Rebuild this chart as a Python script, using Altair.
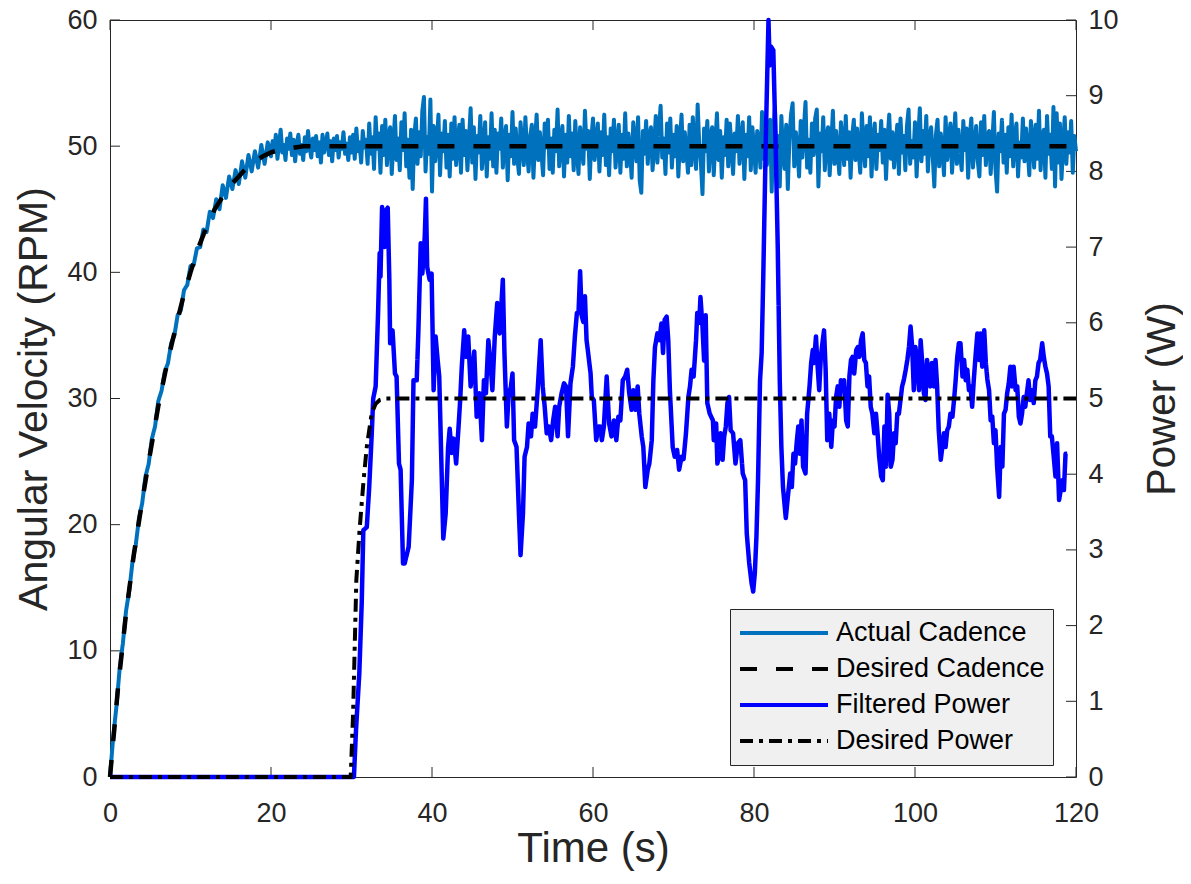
import altair as alt
import pandas as pd

FONT = "Liberation Sans"
TXT = "#262626"
W, H = 966, 757

SERIES = ["Actual Cadence", "Desired Cadence", "Filtered Power", "Desired Power"]
X_TICKS = [0, 20, 40, 60, 80, 100, 120]
CAD_TICKS = [0, 10, 20, 30, 40, 50, 60]
POW_TICKS = [0, 1, 2, 3, 4, 5, 6, 7, 8, 9, 10]

# Desired cadence (RPM)
des_cad_t = [0, 1, 2, 3, 4, 5, 6, 7, 8, 9, 10, 11, 12, 13, 14, 15, 16, 17, 18, 19,
             20, 21, 22, 23, 24, 120]
des_cad_v = [0.0, 7.1, 13.0, 17.8, 21.9, 25.7, 29.4, 32.5, 35.2, 37.8, 40.0, 42.0,
             43.6, 45.0, 46.0, 46.9, 47.6, 48.3, 48.8, 49.2, 49.5, 49.7, 49.8, 49.9,
             50.0, 50.0]

# Actual cadence (RPM): every 0.4 s during the ramp (0-19.6 s)
act_cad_ramp = [
    0.0, 3.2, 5.6, 8.6, 10.6, 13.2, 14.8, 17.1, 18.4, 20.5,
    21.7, 23.8, 24.8, 26.8, 27.8, 29.8, 30.6, 32.1, 32.8, 34.4,
    35.0, 36.6, 37.0, 38.6, 39.0, 40.5, 40.6, 41.9, 42.0, 43.4,
    43.2, 44.8, 44.3, 45.8, 45.0, 46.9, 45.9, 47.6, 46.6, 48.1,
    47.0, 48.8, 47.5, 49.3, 48.0, 49.6, 48.3, 50.1, 48.6, 50.3,
]
# Actual cadence (RPM): every 0.2 s from 20 s to 120 s
act_cad_steady = [
    49.2, 50.4, 49.6, 50.9, 49.0, 50.2, 51.3, 49.5, 50.1, 48.9,
    50.6, 49.8, 51.0, 49.3, 50.5, 48.8, 50.2, 50.9, 49.4, 50.1,
    48.9, 50.7, 49.6, 51.2, 49.9, 49.1, 50.6, 49.7, 50.8, 49.2,
    50.3, 48.7, 50.9, 49.5, 50.1, 51.0, 49.3, 50.4, 48.8, 50.6,
    49.7, 50.8, 49.1, 50.3, 49.8, 51.1, 49.4, 50.2, 48.9, 50.7,
    49.5, 50.9, 49.0, 51.4, 49.6, 50.3, 48.7, 51.2, 49.9, 50.5,
    48.6, 51.8, 49.4, 50.7, 48.2, 52.3, 49.8, 51.0, 47.9, 51.6,
    49.3, 52.1, 48.5, 50.8, 51.5, 47.8, 50.2, 52.4, 48.9, 50.6,
    48.1, 51.9, 49.7, 52.6, 48.4, 50.5, 47.5, 51.3, 46.6, 50.8,
    52.2, 48.6, 51.1, 49.2, 52.8, 53.9, 48.0, 50.7, 49.4, 53.7,
    46.4, 51.6, 48.8, 50.3, 52.5, 47.7, 51.0, 49.6, 52.0, 48.3,
    50.9, 47.6, 51.8, 49.0, 52.3, 48.5, 50.4, 51.7, 47.9, 52.1,
    49.3, 51.2, 48.1, 50.6, 53.0, 48.7, 51.5, 47.4, 50.8, 49.5,
    52.4, 48.2, 50.1, 51.9, 47.6, 50.7, 49.0, 52.6, 48.4, 51.3,
    47.9, 51.0, 49.8, 52.2, 48.3, 50.5, 51.6, 47.3, 50.9, 49.2,
    52.7, 48.6, 51.4, 49.1, 47.8, 51.9, 50.2, 48.5, 52.3, 49.7,
    48.0, 50.8, 51.7, 47.5, 50.4, 52.5, 48.9, 51.1, 49.4, 47.7,
    51.8, 49.9, 52.1, 48.2, 50.6, 47.9, 51.3, 49.6, 52.9, 48.4,
    50.3, 51.6, 47.6, 50.9, 48.7, 52.4, 49.2, 51.0, 48.1, 52.0,
    49.5, 47.8, 51.5, 50.1, 48.6, 52.8, 49.8, 51.2, 47.4, 50.6,
    52.2, 48.9, 50.4, 51.8, 48.0, 51.1, 49.3, 52.5, 48.5, 50.7,
    47.7, 51.4, 49.6, 52.1, 48.3, 50.2, 51.7, 47.9, 50.9, 49.0,
    52.6, 48.4, 51.0, 49.7, 47.5, 51.9, 50.3, 48.8, 52.3, 47.3,
    46.3, 51.2, 49.4, 52.0, 48.6, 50.8, 51.5, 48.1, 50.0, 52.4,
    48.7, 51.3, 53.2, 49.1, 50.6, 47.8, 51.8, 49.5, 52.2, 48.3,
    50.9, 49.2, 51.6, 47.6, 50.4, 52.5, 48.8, 51.1, 49.7, 47.9,
    51.7, 48.5, 52.3, 49.9, 48.2, 53.3, 50.1, 48.7, 46.2, 51.4,
    49.6, 52.0, 48.0, 50.8, 51.5, 47.7, 50.3, 52.6, 48.9, 51.2,
    47.5, 50.7, 49.3, 52.1, 48.4, 51.8, 50.0, 47.8, 51.0, 49.6,
    52.4, 48.6, 50.5, 51.9, 47.4, 50.9, 49.2, 52.3, 48.1, 51.5,
    49.8, 47.9, 51.2, 50.4, 48.3, 52.7, 49.0, 51.6, 48.5, 50.2,
    52.1, 46.4, 51.3, 53.1, 48.0, 50.8, 46.8, 52.4, 49.5, 48.2,
    51.7, 46.6, 50.6, 52.5, 53.4, 48.4, 51.1, 49.7, 47.6, 52.0,
    49.1, 51.4, 53.5, 48.3, 50.5, 47.9, 51.8, 49.3, 52.2, 52.9,
    46.8, 51.0, 49.6, 52.3, 48.1, 50.7, 51.5, 47.7, 50.2, 52.8,
    48.6, 51.2, 49.4, 47.8, 51.9, 50.3, 48.5, 52.4, 49.0, 51.1,
    47.5, 50.8, 52.1, 48.9, 51.4, 49.6, 47.9, 52.6, 50.1, 48.4,
    51.6, 49.2, 52.3, 47.6, 50.5, 51.8, 48.2, 50.9, 49.7, 52.0,
    48.7, 51.3, 47.4, 50.6, 52.5, 49.0, 51.1, 48.3, 50.2, 51.7,
    47.8, 52.2, 49.5, 50.8, 48.1, 51.6, 52.9, 48.6, 50.4, 49.1,
    51.9, 47.6, 50.7, 53.0, 48.8, 51.2, 49.4, 52.4, 48.0, 50.6,
    51.5, 49.2, 46.8, 50.9, 52.1, 48.4, 51.0, 49.8, 47.7, 52.3,
    48.9, 50.5, 51.8, 47.9, 50.2, 52.6, 48.6, 51.3, 49.5, 48.1,
    52.0, 49.7, 51.4, 47.5, 50.8, 52.2, 48.3, 50.1, 51.6, 48.8,
    47.6, 51.9, 49.3, 52.4, 48.5, 50.6, 51.2, 47.8, 50.3, 52.7,
    48.2, 46.4, 51.0, 49.6, 52.1, 48.7, 50.9, 47.9, 51.5, 49.2,
    52.5, 48.4, 50.7, 51.8, 47.6, 50.3, 49.1, 52.2, 48.8, 51.4,
    49.7, 47.7, 52.0, 50.5, 48.3, 51.7, 49.0, 52.8, 48.1, 50.6,
    51.3, 47.5, 52.4, 49.4, 50.9, 48.2, 53.1, 46.8, 52.6, 48.7,
    51.8, 47.4, 50.2, 52.3, 48.6, 51.1, 49.5, 52.0, 47.9, 50.8,
    49.6,
]
act_cad_v = act_cad_ramp + act_cad_steady
act_cad_t = ([round(i * 0.4, 1) for i in range(len(act_cad_ramp))]
             + [round(20 + i * 0.2, 1) for i in range(len(act_cad_steady))])

# Desired power (W)
des_pow_t = [0, 29.9, 30.2, 30.4, 30.6, 31.0, 31.5, 31.9, 32.5, 33.0, 33.5, 34.2, 120]
des_pow_v = [0, 0, 0.84, 1.72, 2.6, 3.26, 3.92, 4.36, 4.8, 4.93, 4.98, 5.0, 5.0]

# Filtered power (W)
fil_pow_t = [
    0, 30.3, 30.56, 30.97, 31.27, 31.47, 31.9, 32.2, 32.5, 32.7, 33.0, 33.3, 33.5, 33.6,
    33.8, 34.1, 34.3, 34.5, 34.7, 34.8, 35.1, 35.4, 35.6, 35.9, 36.1, 36.4, 36.6, 37.1,
    37.5, 37.7, 38.1, 38.3, 38.6, 38.8, 39.1, 39.25, 39.4, 39.7, 39.95, 40.2, 40.45, 40.7,
    40.9, 41.4, 41.7, 42.0, 42.2, 42.45, 42.7, 43.0, 43.3, 43.5, 43.7, 44.0, 44.2, 44.5,
    44.8, 45.0, 45.25, 45.55, 45.9, 46.2, 46.45, 46.7, 47.0, 47.3, 47.5, 47.8, 48.1, 48.4,
    48.6, 48.8, 49.0, 49.3, 49.5, 49.8, 50.0, 50.2, 50.5, 50.8, 51.0, 51.3, 51.5, 51.8,
    52.0, 52.3, 52.5, 52.8, 53.1, 53.3, 53.5, 53.75, 54.0, 54.25, 54.5, 54.8, 55.05, 55.3,
    55.6, 55.8, 56.1, 56.4, 56.65, 56.9, 57.2, 57.5, 57.75, 58.0, 58.2, 58.4, 58.6, 58.8,
    59.0, 59.2, 59.4, 59.7, 59.85, 60.1, 60.4, 60.7, 60.9, 61.1, 61.35, 61.7, 62.0, 62.3,
    62.6, 62.9, 63.15, 63.4, 63.7, 64.0, 64.25, 64.5, 64.8, 65.0, 65.3, 65.55, 65.75, 66.05,
    66.25, 66.5, 66.8, 67.0, 67.3, 67.5, 67.7, 68.0, 68.25, 68.5, 68.7, 68.9, 69.15, 69.35,
    69.55, 69.9, 70.15, 70.45, 70.7, 71.0, 71.25, 71.55, 71.85, 72.05, 72.25, 72.5, 72.8,
    72.95, 73.2, 73.35, 73.6, 73.8, 74.0, 74.2, 74.5, 74.9, 75.0, 75.3, 75.45, 75.7, 75.85,
    76.1, 76.3, 76.5, 76.7, 76.9, 77.1, 77.4, 77.7, 78.0, 78.3, 78.6, 78.9, 79.1, 79.4,
    79.7, 79.9, 80.1, 80.3, 80.5, 80.75, 80.95, 81.15, 81.5, 81.8, 81.95, 82.1, 82.4, 82.7,
    82.95, 83.2, 83.4, 83.6, 83.95, 84.25, 84.5, 84.7, 84.9, 85.1, 85.3, 85.5, 85.7, 85.9,
    86.1, 86.4, 86.6, 86.9, 87.1, 87.3, 87.45, 87.7, 87.85, 88.1, 88.3, 88.5, 88.7, 88.9,
    89.1, 89.35, 89.6, 89.8, 90.0, 90.2, 90.4, 90.6, 90.8, 91.0, 91.2, 91.45, 91.65, 91.85,
    92.05, 92.25, 92.45, 92.7, 92.9, 93.1, 93.3, 93.5, 93.7, 93.9, 94.1, 94.3, 94.5, 94.7,
    94.95, 95.15, 95.35, 95.55, 95.8, 96.0, 96.2, 96.4, 96.6, 96.8, 97.0, 97.2, 97.4, 97.6,
    97.8, 98.0, 98.2, 98.4, 98.6, 98.85, 99.05, 99.25, 99.45, 99.65, 99.85, 100.05, 100.3,
    100.5, 100.7, 100.9, 101.1, 101.3, 101.5, 101.7, 101.9, 102.1, 102.35, 102.55, 102.75,
    102.95, 103.2, 103.4, 103.6, 103.8, 104.0, 104.2, 104.4, 104.65, 104.85, 105.05, 105.25,
    105.45, 105.65, 105.9, 106.1, 106.3, 106.5, 106.7, 106.9, 107.1, 107.3, 107.55, 107.75,
    107.95, 108.15, 108.35, 108.6, 108.8, 109.0, 109.2, 109.4, 109.6, 109.8, 110.0, 110.2,
    110.45, 110.65, 110.85, 111.05, 111.25, 111.45, 111.65, 111.85, 112.05, 112.25, 112.5,
    112.7, 112.9, 113.1, 113.3, 113.5, 113.7, 113.9, 114.1, 114.3, 114.5, 114.75, 114.95,
    115.15, 115.35, 115.55, 115.8, 116.0, 116.2, 116.4, 116.6, 116.8, 117.0, 117.2, 117.45,
    117.65, 117.9, 118.1, 118.3, 118.5, 118.7, 118.9,
]
fil_pow_v = [
    0, 0, 0.62, 1.37, 2.3, 3.26, 3.3, 3.83, 4.5, 5.0, 5.16, 6.13, 6.92, 6.61,
    7.53, 7.0, 7.49, 7.52, 6.57, 5.73, 5.9, 5.33, 5.29, 4.14, 4.06, 2.82, 2.82, 3.04,
    3.92, 5.24, 5.24, 5.86, 7.05, 6.65, 7.14, 7.64, 6.74, 6.57, 6.65, 5.11, 5.82, 5.51,
    5.29, 3.15, 3.48, 4.36, 4.6, 4.28, 4.47, 4.14, 4.63, 4.98, 5.42, 5.9, 5.55, 5.82,
    5.16, 5.33, 5.62, 4.76, 5.07, 4.45, 5.24, 5.07, 5.77, 5.42, 5.11, 5.82, 6.26, 5.86,
    6.21, 6.57, 5.6, 4.63, 5.02, 5.16, 5.33, 4.45, 4.36, 3.48, 2.93, 3.48, 4.23, 4.36,
    4.67, 4.5, 4.8, 4.63, 5.07, 5.42, 5.77, 5.16, 4.89, 4.54, 4.63, 4.45, 4.71, 4.89,
    4.5, 4.89, 5.07, 5.2, 5.16, 4.5, 5.2, 5.42, 5.82, 6.13, 6.13, 6.68, 6.09, 6.01,
    6.35, 5.77, 5.6, 5.33, 5.02, 4.98, 4.45, 4.63, 4.63, 4.45, 4.63, 5.29, 4.67, 4.5,
    4.71, 4.45, 4.76, 4.71, 5.24, 5.29, 5.38, 5.07, 4.85, 5.11, 4.85, 5.16, 4.8, 4.5,
    4.36, 3.83, 4.06, 4.14, 4.45, 5.24, 5.68, 5.86, 5.77, 5.99, 5.6, 6.04, 6.08, 5.77,
    5.11, 4.36, 4.23, 4.32, 4.06, 4.23, 4.2, 4.54, 5.02, 5.16, 5.38, 5.29, 5.77,
    6.13, 6.0, 6.34, 5.95, 5.5, 6.1, 4.94, 4.8, 4.71, 4.45, 4.67, 4.14, 4.27, 4.54,
    4.19, 4.5, 4.63, 4.94, 5.02, 4.58, 4.54, 4.14, 4.41, 4.45, 4.01, 3.92, 3.22, 2.83,
    2.56, 2.45, 2.69, 3.17, 3.92, 5.24, 5.6, 6.6, 8.6, 10.0, 9.4, 9.65, 9.6, 8.3,
    7.0, 5.24, 4.36, 3.83, 3.42, 3.75, 4.01, 3.83, 4.27, 4.14, 4.41, 4.63, 4.27, 4.71,
    4.1, 4.01, 4.8, 5.16, 5.47, 5.64, 5.47, 5.82, 5.51, 5.11, 5.55, 5.73, 5.9, 5.38,
    4.45, 4.8, 4.36, 4.71, 4.63, 5.02, 5.16, 4.89, 5.24, 5.11, 5.24, 4.71, 4.63, 5.29,
    5.51, 5.55, 5.33, 5.64, 5.68, 5.55, 5.77, 5.86, 5.51, 5.47, 5.16, 5.29, 4.89, 4.8,
    4.54, 4.8, 4.54, 4.23, 3.97, 3.92, 4.63, 4.1, 5.05, 4.8, 4.1, 4.19, 4.54, 4.41,
    4.8, 4.8, 4.98, 5.16, 5.24, 5.38, 5.51, 5.68, 5.95, 5.68, 5.11, 5.68, 5.47,
    5.11, 5.77, 5.47, 5.07, 4.98, 5.51, 5.24, 5.16, 5.47, 5.16, 5.51, 5.16,
    4.58, 4.19, 4.36, 4.54, 4.36, 4.58, 4.63, 4.8, 4.76, 4.98, 5.24, 5.55,
    5.73, 5.73, 5.29, 5.51, 5.24, 5.38, 5.11, 5.16, 4.89, 5.24, 5.6, 5.86,
    5.51, 5.86, 5.42, 5.9, 5.47, 5.24, 5.11, 4.71, 4.76, 4.41, 4.58, 4.1,
    3.7, 4.36, 4.1, 4.8, 4.85, 5.07, 5.2, 5.42, 5.16, 5.42, 5.11,
    5.16, 4.76, 4.67, 4.8, 5.02, 4.89, 5.07, 5.24, 4.98, 5.11, 4.94, 5.24,
    5.29, 5.47, 5.51, 5.73, 5.55, 5.42, 5.33, 5.16, 4.5, 4.5, 4.27, 3.97,
    4.41, 3.66, 3.79, 3.92, 3.79, 4.27, 4.27,
]

act_df = pd.DataFrame({"t": act_cad_t, "v": act_cad_v, "series": SERIES[0]})
dcad_df = pd.DataFrame({"t": des_cad_t, "v": des_cad_v, "series": SERIES[1]})
fpow_df = pd.DataFrame({"t": fil_pow_t, "v": fil_pow_v, "series": SERIES[2]})
dpow_df = pd.DataFrame({"t": des_pow_t, "v": des_pow_v, "series": SERIES[3]})
xt_df = pd.DataFrame({"t": X_TICKS})
ct_df = pd.DataFrame({"v": CAD_TICKS})
pt_df = pd.DataFrame({"v": POW_TICKS})

x_scale = alt.Scale(domain=[0, 120], nice=False, zero=False)
cad_scale = alt.Scale(domain=[0, 60], nice=False)
pow_scale = alt.Scale(domain=[0, 10], nice=False)

color_scale = alt.Scale(domain=SERIES, range=["#0072BD", "#000000", "#0000FF", "#000000"])
dash_scale = alt.Scale(domain=SERIES, range=[[1, 0], [17, 19], [1, 0], [13, 6, 4, 6]])

legend = alt.Legend(
    title=None, orient="none", legendX=620, legendY=589, direction="vertical",
    symbolType="stroke", symbolSize=7744, symbolStrokeWidth=4, clipHeight=32,
    rowPadding=4, padding=8, labelOffset=6, labelFontSize=27, labelFont=FONT,
    labelColor="#000000", labelLimit=400, fillColor="#f0f0f0", strokeColor="#262626",
)


def enc(chart, x_axis, y_axis, y_scale):
    return chart.encode(
        x=alt.X("t:Q", scale=x_scale, axis=x_axis),
        y=alt.Y("v:Q", scale=y_scale, axis=y_axis),
        color=alt.Color("series:N", scale=color_scale, legend=legend),
        strokeDash=alt.StrokeDash("series:N", scale=dash_scale, legend=legend),
    )


lab_common = dict(labelFontSize=27, grid=False, domain=False, ticks=False, tickSize=0)

x_main = alt.Axis(orient="bottom", values=X_TICKS, format="d", title="Time (s)",
                  titleFontSize=42, labelPadding=23, labelFlush=False, titleY=51,
                  titleBaseline="top", **lab_common)
y_left = alt.Axis(orient="left", values=CAD_TICKS, format="d",
                  title="Angular Velocity (RPM)", titleFontSize=41, labelPadding=13,
                  labelFlush=False, titleX=-55, titleY=H / 2, titleAngle=270,
                  titleBaseline="bottom", titleAlign="center", **lab_common)
y_right = alt.Axis(orient="right", values=POW_TICKS, format="d", title="Power (W)",
                   titleFontSize=41, labelPadding=12, labelFlush=False, titleX=107,
                   titleY=H / 2, titleAngle=270, titleBaseline="bottom",
                   titleAlign="center", **lab_common)

# inward tick marks (MATLAB style), placed through the scales
tk = dict(color=TXT, strokeWidth=1)
t_bottom = alt.Chart(xt_df).mark_rule(**tk).encode(
    x=alt.X("t:Q", scale=x_scale, axis=None), y=alt.value(H), y2=alt.value(H - 10))
t_top = alt.Chart(xt_df).mark_rule(**tk).encode(
    x=alt.X("t:Q", scale=x_scale, axis=None), y=alt.value(0), y2=alt.value(10))
t_left = alt.Chart(ct_df).mark_rule(**tk).encode(
    y=alt.Y("v:Q", scale=cad_scale, axis=None), x=alt.value(0), x2=alt.value(10))
t_right = alt.Chart(pt_df).mark_rule(**tk).encode(
    y=alt.Y("v:Q", scale=pow_scale, axis=None), x=alt.value(W - 10), x2=alt.value(W))

l1 = enc(alt.Chart(act_df).mark_line(strokeWidth=4, strokeJoin="round"),
         x_main, y_left, cad_scale)
l2 = enc(alt.Chart(dcad_df).mark_line(strokeWidth=4.5), None, None, cad_scale)
l3 = enc(alt.Chart(fpow_df).mark_line(strokeWidth=4.5, strokeJoin="round"),
         None, y_right, pow_scale)
l4 = enc(alt.Chart(dpow_df).mark_line(strokeWidth=4), None, None, pow_scale)

chart = (
    alt.layer(t_bottom, t_top, t_left, t_right, l1, l2, l3, l4)
    .resolve_scale(y="independent")
    .resolve_axis(x="independent", y="independent")
    .properties(
        width=W, height=H,
        autosize=alt.AutoSizeParams(type="none"),
        padding={"left": 102, "top": 12, "right": 107, "bottom": 99},
        background="white",
    )
    .configure_view(stroke=TXT, strokeWidth=1)
    .configure_axis(labelFont=FONT, titleFont=FONT, labelColor=TXT, titleColor=TXT,
                    tickColor=TXT, tickWidth=1, titleFontWeight="normal")
)

chart.save("out.html", embed_options={"renderer": "svg", "actions": False})
